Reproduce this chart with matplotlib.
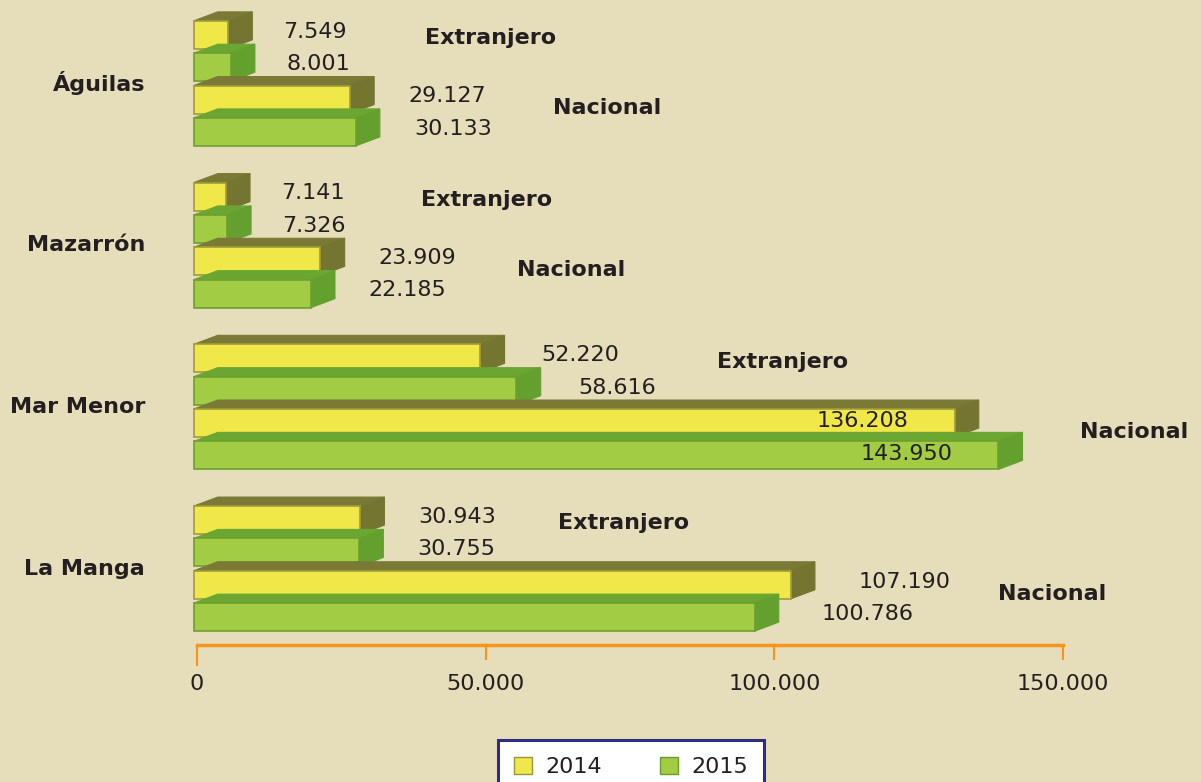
"""Visitors by origin (Extranjero / Nacional) per coastal area, 2014 vs 2015.

Pseudo-3D horizontal bars, drawn as front/top/side patches on one axes.
"""
import matplotlib
matplotlib.use("Agg")
import matplotlib.pyplot as plt
from matplotlib.patches import Polygon, Rectangle, Patch
from matplotlib.ticker import FuncFormatter

regions = ["Águilas", "Mazarrón", "Mar Menor", "La Manga"]
ext_2014 = [7549, 7141, 52220, 30943]
ext_2015 = [8001, 7326, 58616, 30755]
nac_2014 = [29127, 23909, 136208, 107190]
nac_2015 = [30133, 22185, 143950, 100786]
series_names = ["Extranjero", "Nacional"]
years = ["2014", "2015"]
x_ticks = [0, 50000, 100000, 150000]

BG = "#e6ddba"
TXT = "#231f20"
ORANGE = "#f7941d"
# (front, top, side, edge)
YELLOW = ("#f0e848", "#7a7a36", "#757532", "#a09c3c")
GREEN = ("#a2cc44", "#6ca632", "#64a02e", "#6e9f30")

H = 0.866    # bar thickness in slot units
DX = 4200    # depth offset along x (data units)
DY = 0.28    # depth offset along y (slot units)
SLOTS = 5    # 4 bars + 1 empty slot per region


def fmt(v):
    return f"{v:,}".replace(",", ".")


def bar3d(ax, v, yc, colors, z):
    front, top, side, edge = colors
    x0 = -600
    x1 = 0.978 * v - 2000  # front face shrinks a bit (perspective)
    yt, yb = yc - H / 2, yc + H / 2
    ax.add_patch(Polygon([(x0, yt), (x1, yt), (x1 + DX, yt - DY), (x0 + DX, yt - DY)],
                         closed=True, fc=top, ec=top, lw=0.8, zorder=z, clip_on=False))
    ax.add_patch(Polygon([(x1, yt), (x1 + DX, yt - DY), (x1 + DX, yb - DY), (x1, yb)],
                         closed=True, fc=side, ec=side, lw=0.8, zorder=z, clip_on=False))
    ax.add_patch(Rectangle((x0, yt), x1 - x0, H, fc=front, ec=edge, lw=1.2,
                           zorder=z, clip_on=False))
    return x1


fig = plt.figure(figsize=(12.01, 7.82), dpi=100, facecolor=BG)
ax = fig.add_axes([197 / 1201, 137 / 782, 866 / 1201, 645 / 782])
ax.set_facecolor(BG)
ax.set_xlim(0, 150000)
ax.set_ylim(18.86, -1.08)

z = 2
for g, name in enumerate(regions):
    base = g * SLOTS
    rows = [(ext_2014[g], YELLOW), (ext_2015[g], GREEN),
            (nac_2014[g], YELLOW), (nac_2015[g], GREEN)]
    for k, (v, col) in enumerate(rows):
        yc = base + k
        bar3d(ax, v, yc, col, z)
        z += 1
        if v > 130000:
            ax.text(v - 13000, yc - 0.05, fmt(v), ha="right", va="center",
                    fontsize=16, color=TXT, zorder=50, clip_on=False)
        else:
            ax.text(v + 7450, yc - 0.1, fmt(v), ha="left", va="center",
                    fontsize=16, color=TXT, zorder=50, clip_on=False)

    ax.text(-9000, base + 1.5, name, ha="right", va="center", fontsize=16,
            fontweight="bold", color=TXT, clip_on=False)

    for j, (s, vals) in enumerate(zip(series_names,
                                      [(ext_2014[g], ext_2015[g]),
                                       (nac_2014[g], nac_2015[g])])):
        xs = max(vals) + 31500
        ys = base + 2 * j + (0.1 if j == 0 else 0.27)
        if xs > 152000:
            ax.text(171650, ys, s, ha="right", va="center", fontsize=16,
                    fontweight="bold", color=TXT, clip_on=False)
        else:
            ax.text(xs, ys, s, ha="left", va="center", fontsize=16,
                    fontweight="bold", color=TXT, clip_on=False)

for sp in ["top", "right", "left"]:
    ax.spines[sp].set_visible(False)
ax.spines["bottom"].set_color(ORANGE)
ax.spines["bottom"].set_linewidth(2.5)
ax.set_yticks([])
ax.set_xticks(x_ticks)
ax.xaxis.set_major_formatter(FuncFormatter(lambda v, _: fmt(int(v))))
ax.tick_params(axis="x", colors=ORANGE, length=11, width=1.5, labelsize=16,
               labelcolor=TXT, pad=10)
# the zero tick reaches a little lower than the others
ax.xaxis.get_major_ticks()[0].tick1line.set_markersize(15)

handles = [Patch(fc=YELLOW[0], ec="#9a9440", lw=1),
           Patch(fc=GREEN[0], ec="#6a9a30", lw=1)]
leg = fig.legend(handles, years, loc="upper center",
                 bbox_to_anchor=(631 / 1201, 1 - 740 / 782), ncol=2,
                 fontsize=16, frameon=True, fancybox=False, framealpha=1,
                 handlelength=0.8, handleheight=0.8, handletextpad=0.6,
                 columnspacing=2.6, borderpad=0.75, borderaxespad=0)
leg.get_frame().set_edgecolor("#2b2e83")
leg.get_frame().set_linewidth(2.2)
leg.get_frame().set_facecolor("white")
for t in leg.get_texts():
    t.set_color(TXT)

fig.savefig("out.png", dpi=100, facecolor=BG)
